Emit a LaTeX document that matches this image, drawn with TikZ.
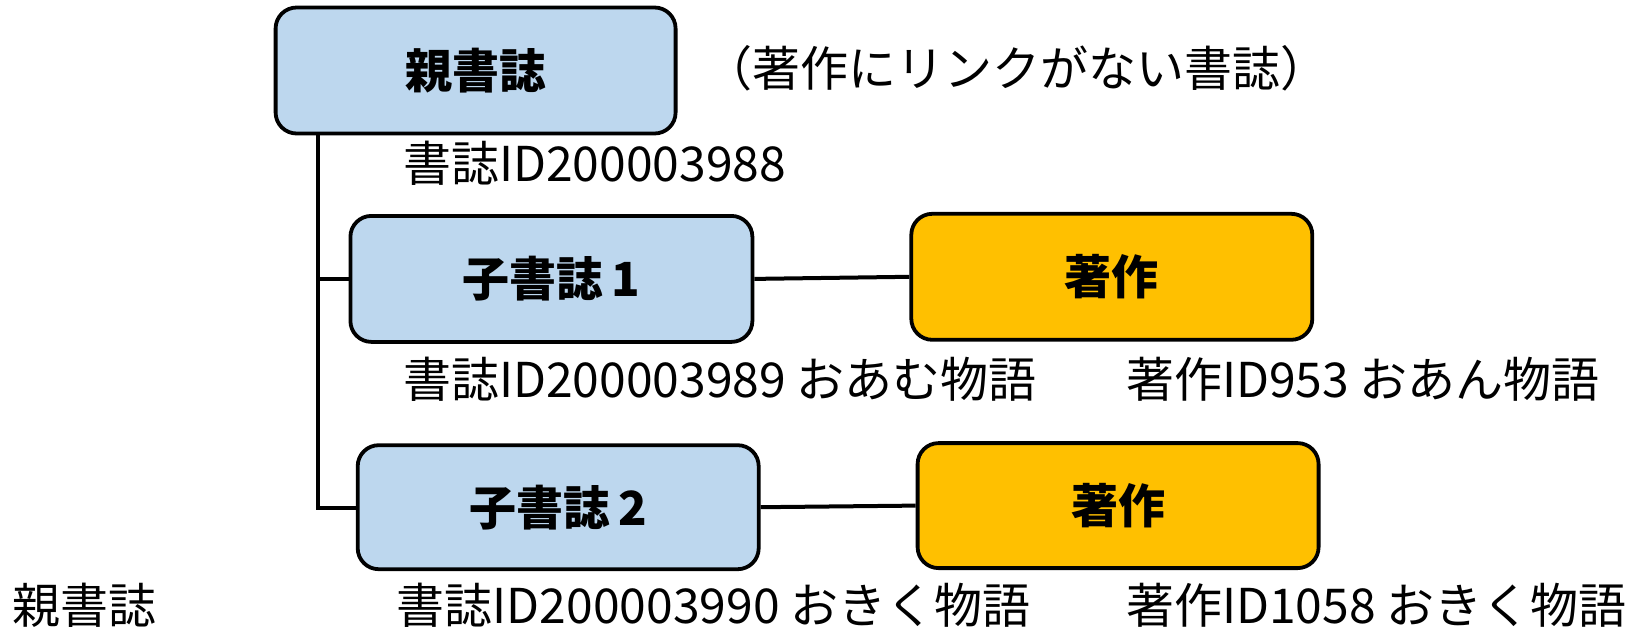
\documentclass[tikz,border=0pt]{standalone}
\usepackage{fontspec}
\setmainfont{Noto Sans CJK JP}
\definecolor{bluefill}{HTML}{BDD7EE}
\definecolor{orangefill}{HTML}{FFC000}
\tikzset{
  box/.style={draw=black, line width=3.8pt, rounded corners=21pt, inner sep=0pt,
    font=\fontsize{47}{52}\selectfont\bfseries},
  bib/.style={box, fill=bluefill},
  work/.style={box, fill=orangefill},
  lbl/.style={anchor=west, inner sep=0pt, font=\fontsize{48}{54}\selectfont},
  link/.style={line width=4pt}
}
\begin{document}
\begin{tikzpicture}[x=1pt,y=-1pt]
\useasboundingbox (0,0) rectangle (1650,635);
% boxes
\node[bib, minimum width=400pt, minimum height=126pt] (p) at (475.6,70.5) {親書誌};
\node[bib, minimum width=402pt, minimum height=126pt] (c1) at (551.4,278.9) {子書誌\,1};
\node[work, minimum width=401pt, minimum height=126pt] (w1) at (1111.8,276.8) {著作};
\node[bib, minimum width=401pt, minimum height=124pt] (c2) at (558.2,507.2) {子書誌\,2};
\node[work, minimum width=401pt, minimum height=125pt] (w2) at (1118.1,505.6) {著作};
% connectors
\coordinate (j1) at (317.8,278.9);
\coordinate (j2) at (317.8,508.3);
\draw[link] (p.south -| j1) -- (j2) -- (c2.west |- j2);
\draw[link] (j1) -- (c1.west);
\draw[link] (c1.east) -- (w1.west);
\draw[link] (c2.east) -- (w2.west);
% labels
\node[lbl] (note) at (704,68.4) {（著作にリンクがない書誌）};
\node[lbl] (pid) at (403,163) {書誌ID200003988};
\node[lbl] (c1id) at (403,378.8) {書誌ID200003989 おあむ物語};
\node[lbl] (w1id) at (1126,378.8) {著作ID953 おあん物語};
\node[lbl] (cap) at (12.6,605) {親書誌};
\node[lbl] (c2id) at (396.7,605) {書誌ID200003990 おきく物語};
\node[lbl] (w2id) at (1126,605) {著作ID1058 おきく物語};
\end{tikzpicture}
\end{document}
